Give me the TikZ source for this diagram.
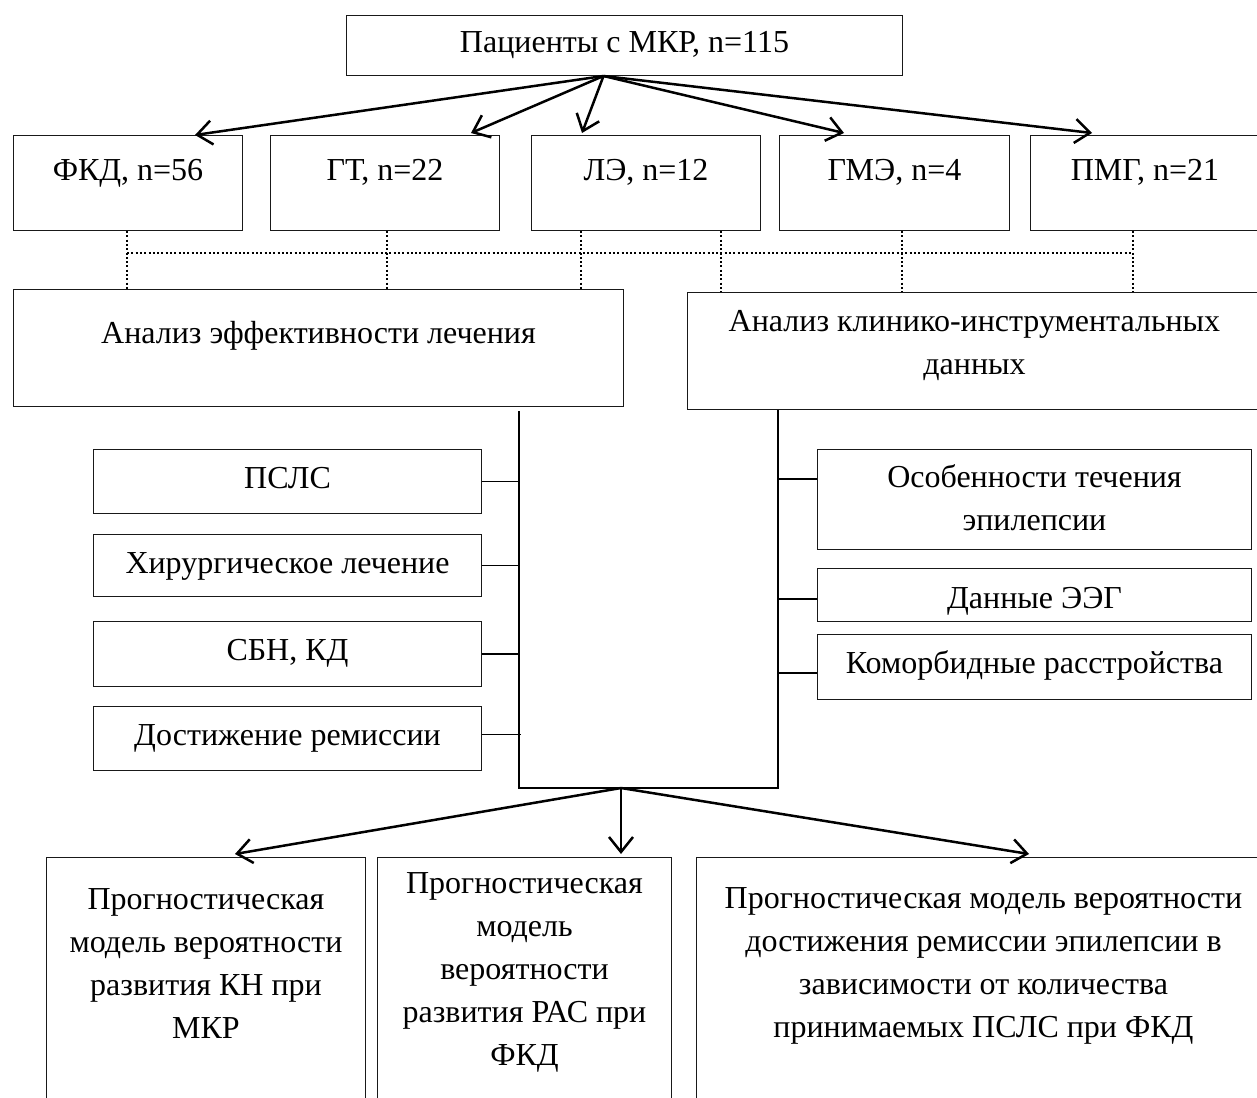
\documentclass[tikz,border=0pt]{standalone}
\usepackage{fontspec}
\setmainfont{Liberation Serif}
\usetikzlibrary{arrows.meta,calc}
\newcommand\fs{\fontsize{32}{43}\selectfont}
\newcommand\tstrut{\rule{0pt}{24pt}}
\begin{document}
\begin{tikzpicture}[x=1pt,y=-1pt,
  box/.style={draw=black!90, line width=1pt, inner sep=0pt, anchor=north west},
  txt/.style={inner sep=0pt, anchor=base, font=\fs},
  mtxt/.style={inner sep=0pt, anchor=north, align=center, font=\fs},
  arr/.style={line width=2.5pt, -{Straight Barb[length=15pt,width=24pt]}},
  tree/.style={line width=1.9pt},
  dots/.style={line width=1.8pt, dash pattern=on 2pt off 2.3pt}]
\clip (0,0) rectangle (1257,1097);
\fill[white] (0,0) rectangle (1257,1097);
% boxes
\node[box, minimum width=556pt, minimum height=60pt] (top) at (346,15) {};
\node[box, minimum width=229pt, minimum height=95pt] (fkd) at (13,135) {};
\node[box, minimum width=229pt, minimum height=95pt] (gt) at (270,135) {};
\node[box, minimum width=229pt, minimum height=95pt] (le) at (531,135) {};
\node[box, minimum width=230pt, minimum height=95pt] (gme) at (779,135) {};
\node[box, minimum width=229pt, minimum height=95pt] (pmg) at (1030,135) {};
\node[box, minimum width=610pt, minimum height=117pt] (ae) at (13,289) {};
\node[box, minimum width=574pt, minimum height=117pt] (ak) at (687,292) {};
\node[box, minimum width=388pt, minimum height=64pt] (ps) at (93,449) {};
\node[box, minimum width=388pt, minimum height=62pt] (hl) at (93,534) {};
\node[box, minimum width=388pt, minimum height=65pt] (sbn) at (93,621) {};
\node[box, minimum width=388pt, minimum height=64pt] (dr) at (93,706) {};
\node[box, minimum width=434pt, minimum height=100pt] (os) at (817,449) {};
\node[box, minimum width=434pt, minimum height=53pt] (eeg) at (817,568) {};
\node[box, minimum width=434pt, minimum height=65pt] (kr) at (817,634) {};
\node[box, minimum width=319pt, minimum height=300pt] (pm1) at (46,857) {};
\node[box, minimum width=294pt, minimum height=300pt] (pm2) at (377,857) {};
\node[box, minimum width=574pt, minimum height=300pt] (pm3) at (696,857) {};
% texts
\node[txt] (topT) at ([yshift=-38pt]top.north) {Пациенты с МКР, n=115};
\node[txt] (fkdT) at ([yshift=-45pt]fkd.north) {ФКД, n=56};
\node[txt] (gtT) at ([yshift=-45pt]gt.north) {ГТ, n=22};
\node[txt] (leT) at ([yshift=-45pt]le.north) {ЛЭ, n=12};
\node[txt] (gmeT) at ([yshift=-45pt]gme.north) {ГМЭ, n=4};
\node[txt] (pmgT) at ([yshift=-45pt]pmg.north) {ПМГ, n=21};
\node[txt] (aeT) at ([yshift=-54pt]ae.north) {Анализ эффективности лечения};
\node[mtxt] (akT) at ([yshift=-15pt]ak.north) {\tstrut Анализ клинико-инструментальных\\данных};
\node[txt] (psT) at ([yshift=-39pt]ps.north) {ПСЛС};
\node[txt] (hlT) at ([yshift=-39pt]hl.north) {Хирургическое лечение};
\node[txt] (sbnT) at ([yshift=-39pt]sbn.north) {СБН, КД};
\node[txt] (drT) at ([yshift=-39pt]dr.north) {Достижение ремиссии};
\node[mtxt] (osT) at ([yshift=-14pt]os.north) {\tstrut Особенности течения\\эпилепсии};
\node[txt] (eegT) at ([yshift=-40pt]eeg.north) {Данные ЭЭГ};
\node[txt] (krT) at ([yshift=-39pt]kr.north) {Коморбидные расстройства};
\node[mtxt] (pm1T) at ([yshift=-28pt]pm1.north) {\tstrut Прогностическая\\модель вероятности\\развития КН при\\МКР};
\node[mtxt] (pm2T) at ([yshift=-12pt]pm2.north) {\tstrut Прогностическая\\модель\\вероятности\\развития РАС при\\ФКД};
\node[mtxt] (pm3T) at ([yshift=-27pt]pm3.north) {\tstrut Прогностическая модель вероятности\\достижения ремиссии эпилепсии в\\зависимости от количества\\принимаемых ПСЛС при ФКД};
% top arrows
\coordinate (src) at ([xshift=-21pt]top.south);
\draw[arr] (src) -- ([xshift=182pt]fkd.north west);
\draw[arr] (src) -- ([xshift=201pt,yshift=2pt]gt.north west);
\draw[arr] (src) -- ([xshift=51pt,yshift=2pt]le.north west);
\draw[arr] (src) -- ([xshift=65pt,yshift=2pt]gme.north west);
\draw[arr] (src) -- ([xshift=62pt,yshift=2pt]pmg.north west);
% dotted links
\coordinate (d1) at ([xshift=114pt]fkd.south west);
\coordinate (d2) at ([xshift=117pt]gt.south west);
\coordinate (d3) at ([xshift=50pt]le.south west);
\coordinate (d4) at ([xshift=190pt]le.south west);
\coordinate (d5) at ([xshift=123pt]gme.south west);
\coordinate (d6) at ([xshift=103pt]pmg.south west);
\coordinate (h1) at ([yshift=-22pt]d1);
\coordinate (h2) at (d6 |- h1);
\draw[dots] (d1) -- (d1 |- ae.north);
\draw[dots] (d2) -- (d2 |- ae.north);
\draw[dots] (d3) -- (d3 |- ae.north);
\draw[dots] (d4) -- (d4 |- ak.north);
\draw[dots] (d5) -- (d5 |- ak.north);
\draw[dots] (d6) -- (d6 |- ak.north);
\draw[dots] (h1) -- (h2);
% tree
\coordinate (lt) at ([xshift=506pt,yshift=-4pt]ae.south west);
\coordinate (rt) at ([xshift=91pt]ak.south west);
\coordinate (hub) at (621,788);
\draw[tree] (lt) -- (lt |- hub) -- (rt |- hub) -- (rt);
\draw[tree] (ps.east) -- (ps.east -| lt);
\draw[tree] (hl.east) -- (hl.east -| lt);
\draw[tree] (sbn.east) -- (sbn.east -| lt);
\draw[tree] ([yshift=4pt]dr.east) -- ([yshift=4pt,xshift=2pt]dr.east -| lt);
\coordinate (o1) at ([yshift=-30pt]os.north west);
\coordinate (o2) at ([yshift=-31pt]eeg.north west);
\coordinate (o3) at ([yshift=-39pt]kr.north west);
\draw[tree] (o1 -| rt) -- (o1);
\draw[tree] (o2 -| rt) -- (o2);
\draw[tree] (o3 -| rt) -- (o3);
% bottom arrows
\draw[arr] (hub) -- ([xshift=189pt,yshift=3pt]pm1.north west);
\draw[arr] (hub) -- ([xshift=244pt,yshift=3pt]pm2.north west);
\draw[arr] (hub) -- ([xshift=333pt,yshift=3pt]pm3.north west);
\end{tikzpicture}
\end{document}
